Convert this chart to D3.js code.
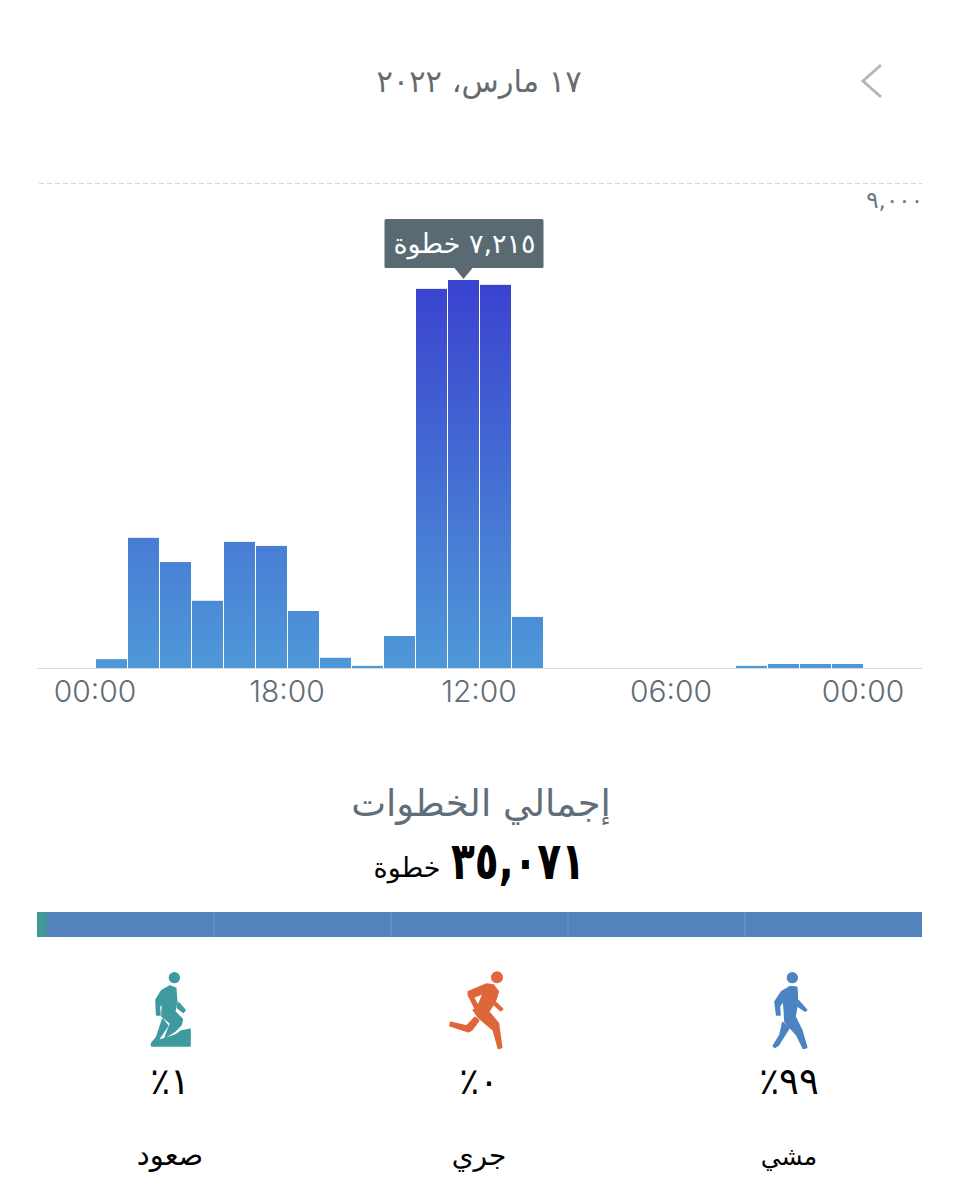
<!DOCTYPE html>
<html lang="ar">
<head>
    <meta charset="utf-8">
    <title>Daily steps</title>
    <script src="https://d3js.org/d3.v7.min.js"></script>
    <style>
        html, body { margin: 0; background: #fff; }
        svg { display: block; }
        .ar { font-family: 'DejaVu Sans', sans-serif; direction: rtl; }
        .ticks text { font-family: 'Inter', sans-serif; font-size: 30px; font-weight: 300; fill: #5f6d75; }
    </style>
</head>
<body>
    <svg id="chart" width="959" height="1200"></svg>
    <script type="text/javascript">
        // Steps per hour slot, left to right (the axis runs backwards, it is an RTL screen)
        const slots = d3.range(24);
        const steps = [165, 2420, 1970, 1250, 2345, 2270, 1060, 190, 40, 595, 7050, 7215, 7125, 950, 0, 0, 0, 0, 0, 0, 40, 75, 75, 75];
        const tickSlots = [0, 6, 12, 18, 24];
        const tickLabels = ["00:00", "18:00", "12:00", "06:00", "00:00"];
        const maxSteps = 9000;
        const maxLabel = "٩,٠٠٠";
        const peakIndex = 11;
        const peakLabel = "٧,٢١٥ خطوة";

        const dateLabel = "١٧ مارس، ٢٠٢٢";
        const totalTitle = "إجمالي الخطوات";
        const totalValue = "٣٥,٠٧١";
        const totalUnit = "خطوة";

        // Activity split, in the order it is drawn from the left
        const activities = ["صعود", "جري", "مشي"];
        const shares = [1, 0, 99];
        const shareLabels = ["١٪", "٠٪", "٩٩٪"];
        const iconColors = ["#3f9a9f", "#dd673a", "#4c84c3"];

        // Icon outlines, in crop units of a 300x300 box
        const icons = [
            { head: [163, 53, 17], parts: [
                "M108 120L125 92L150 78L167 85L170 125L164 155L187 178L183 195L165 213L136 231L152 190L126 168L128 125L118 140L120 165L110 165Z",
                "M128 178L143 197L112 243L165 226L185 213L210 208L210 258L95 258L95 250L110 232Z",
                "M175 128L195 150L190 157L172 143Z"] },
            { head: [201, 52, 18], parts: [
                "M115 95L170 72L190 75L205 95L195 125L176 155L205 190L215 262L205 265L190 210L145 172L130 150L140 145L150 125L160 100L130 112L150 150L140 155L115 105Z",
                "M135 172L146 182L125 210L115 215L60 197L62 187L110 198Z",
                "M198 128L218 147L212 152L193 135Z"] },
            { head: [157, 53, 17], parts: [
                "M125 95L150 80L170 82L172 110L170 140L165 170L185 210L200 262L190 265L170 225L135 185L133 150L130 120L118 140L120 165L110 165L105 125Z",
                "M128 188L148 203L115 255L105 262L100 258L120 225Z",
                "M175 122L200 150L195 153L173 138Z"] }
        ];
        const iconOrigins = [[120, 960], [430, 960], [740, 960]];

        const svg = d3.select("#chart");

        const x = d3.scaleLinear().domain([0, 24]).range([95.5, 863.5]);
        const y = d3.scaleLinear().domain([0, maxSteps]).range([668, 184]);

        // Top bar
        svg.append("text")
            .attr("class", "ar")
            .attr("x", 479).attr("y", 92)
            .attr("text-anchor", "middle")
            .attr("font-size", 30.5)
            .attr("fill", "#666b6f")
            .text(dateLabel);

        svg.append("path")
            .attr("d", "M881 65L863 81L881 97")
            .attr("fill", "none")
            .attr("stroke", "#b4b6b8")
            .attr("stroke-width", 3);

        // Gradient runs over the whole plot so that tall bars get darker at the top
        const grad = svg.append("defs").append("linearGradient")
            .attr("id", "barGrad")
            .attr("gradientUnits", "userSpaceOnUse")
            .attr("x1", 0).attr("x2", 0)
            .attr("y1", y(7215)).attr("y2", y(0));
        grad.append("stop").attr("offset", "0%").attr("stop-color", "#3a42cf");
        grad.append("stop").attr("offset", "100%").attr("stop-color", "#4e99d8");

        svg.append("line")
            .attr("x1", 39).attr("x2", 922)
            .attr("y1", y(maxSteps) - 0.5).attr("y2", y(maxSteps) - 0.5)
            .attr("stroke", "#d6d8da")
            .attr("stroke-dasharray", "5 3");

        svg.append("text")
            .attr("class", "ar")
            .attr("x", 923).attr("y", 208)
            .attr("text-anchor", "start")
            .attr("font-size", 23)
            .attr("fill", "#6d777e")
            .text(maxLabel);

        svg.append("line")
            .attr("x1", 37).attr("x2", 922)
            .attr("y1", y(0) + 0.5).attr("y2", y(0) + 0.5)
            .attr("stroke", "#d9d9d9");

        svg.selectAll("rect.bar")
            .data(slots.filter(i => steps[i] > 0))
            .enter().append("rect")
            .attr("class", "bar")
            .attr("x", i => x(i) + 0.5)
            .attr("width", i => x(i + 1) - x(i) - 1)
            .attr("y", i => y(steps[i]))
            .attr("height", i => y(0) - y(steps[i]))
            .attr("fill", "url(#barGrad)");

        const axis = d3.axisBottom(x)
            .tickValues(tickSlots)
            .tickSize(0)
            .tickPadding(13)
            .tickFormat((d, i) => tickLabels[i]);

        svg.append("g")
            .attr("class", "ticks")
            .attr("transform", "translate(-1," + y(0) + ")")
            .call(axis)
            .call(g => g.select(".domain").remove())
            .call(g => g.selectAll("text").attr("font-family", null).attr("font-size", null));

        // Tooltip over the peak bar
        const tipX = x(peakIndex + 0.5);
        const tipBottom = y(steps[peakIndex]) - 12;
        const tip = svg.append("g");
        tip.append("rect")
            .attr("x", tipX - 79).attr("y", tipBottom - 49)
            .attr("width", 159).attr("height", 49)
            .attr("rx", 1.5)
            .attr("fill", "#5a6a72");
        tip.append("path")
            .attr("d", d3.line()([[tipX - 9, tipBottom], [tipX + 9, tipBottom], [tipX, tipBottom + 11]]))
            .attr("fill", "#5a6a72");
        tip.append("text")
            .attr("class", "ar")
            .attr("x", tipX + 1).attr("y", tipBottom - 15)
            .attr("text-anchor", "middle")
            .attr("font-size", 27)
            .attr("fill", "#fff")
            .text(peakLabel);

        // Totals
        svg.append("text")
            .attr("class", "ar")
            .attr("x", 481).attr("y", 816)
            .attr("text-anchor", "middle")
            .attr("font-size", 37)
            .attr("fill", "#5f6e78")
            .text(totalTitle);

        // number is squeezed a bit, DejaVu bold is much wider than the original font
        svg.append("text")
            .attr("class", "ar")
            .attr("x", 518).attr("y", 879)
            .attr("text-anchor", "middle")
            .attr("font-size", 52)
            .attr("font-weight", "bold")
            .attr("fill", "#000")
            .attr("textLength", 134)
            .attr("lengthAdjust", "spacingAndGlyphs")
            .text(totalValue);

        svg.append("text")
            .attr("class", "ar")
            .attr("x", 407).attr("y", 877)
            .attr("text-anchor", "middle")
            .attr("font-size", 27)
            .attr("fill", "#000")
            .text(totalUnit);

        // Split bar
        const barX = d3.scaleLinear().domain([0, 100]).range([37, 922]);

        const splitGrad = svg.select("defs").append("linearGradient")
            .attr("id", "splitGrad")
            .attr("gradientUnits", "userSpaceOnUse")
            .attr("x1", barX(0)).attr("x2", barX(shares[0] + shares[1]) + 3)
            .attr("y1", 0).attr("y2", 0);
        splitGrad.append("stop").attr("offset", "55%").attr("stop-color", "#3f9a92");
        splitGrad.append("stop").attr("offset", "100%").attr("stop-color", "#5283bd");

        svg.append("rect")
            .attr("x", barX(0)).attr("y", 912)
            .attr("width", barX(100) - barX(0)).attr("height", 25)
            .attr("fill", "url(#splitGrad)");

        svg.selectAll("line.divider")
            .data([20, 40, 60, 80])
            .enter().append("line")
            .attr("class", "divider")
            .attr("x1", d => barX(d)).attr("x2", d => barX(d))
            .attr("y1", 912).attr("y2", 937)
            .attr("stroke", "#fff")
            .attr("stroke-opacity", 0.2);

        // Activity columns
        const cols = svg.selectAll("g.activity")
            .data(activities)
            .enter().append("g")
            .attr("class", "activity");

        cols.append("g")
            .attr("transform", (d, i) => "translate(" + iconOrigins[i][0] + "," + iconOrigins[i][1] + ") scale(" + (1 / 3) + ")")
            .each(function(d, i) {
                const g = d3.select(this);
                g.append("circle")
                    .attr("cx", icons[i].head[0]).attr("cy", icons[i].head[1]).attr("r", icons[i].head[2])
                    .attr("fill", iconColors[i]);
                g.selectAll("path")
                    .data(icons[i].parts)
                    .enter().append("path")
                    .attr("d", p => p)
                    .attr("fill", iconColors[i])
                    .attr("stroke", iconColors[i])
                    .attr("stroke-width", 5)
                    .attr("stroke-linejoin", "round");
            });

        const colX = [170, 479, 789];
        cols.append("text")
            .attr("class", "ar")
            .attr("x", (d, i) => colX[i]).attr("y", 1094)
            .attr("text-anchor", "middle")
            .attr("font-size", 37)
            .attr("fill", "#000")
            .text((d, i) => shareLabels[i]);

        cols.append("text")
            .attr("class", "ar")
            .attr("x", (d, i) => colX[i]).attr("y", 1165)
            .attr("text-anchor", "middle")
            .attr("font-size", (d, i) => [29, 28, 25][i])
            .attr("fill", "#000")
            .text(d => d);
    </script>
</body>
</html>
